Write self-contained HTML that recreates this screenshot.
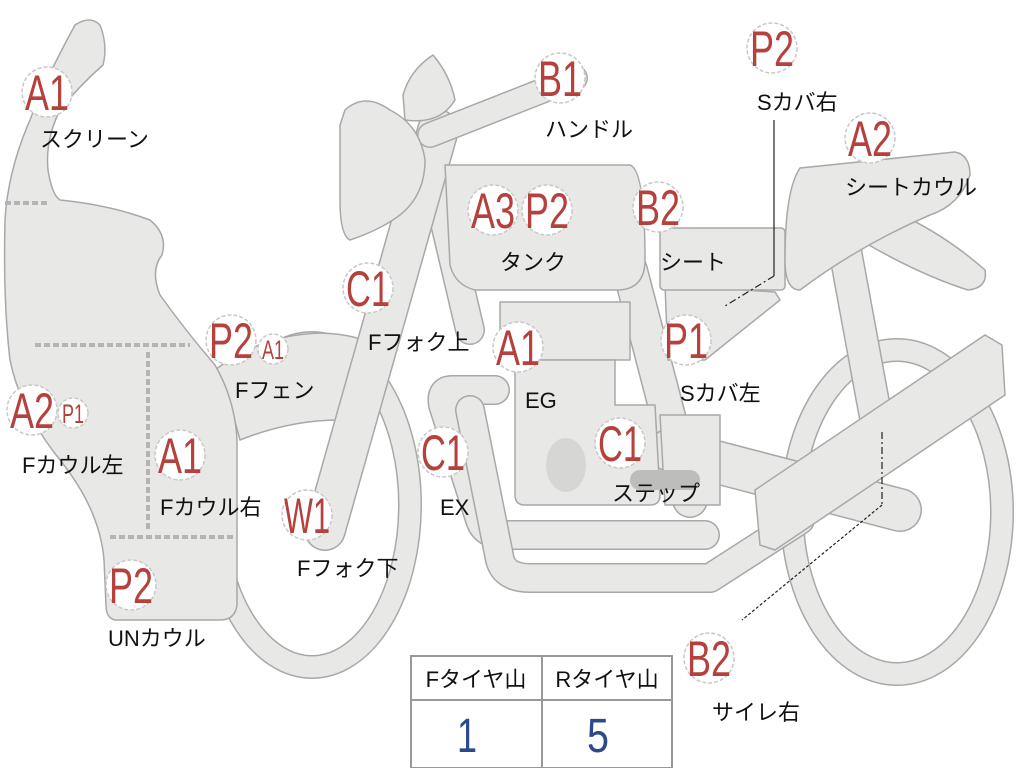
<!DOCTYPE html>
<html><head><meta charset="utf-8"><style>
html,body{margin:0;padding:0;background:#fff;width:1024px;height:768px;overflow:hidden}
svg{display:block}
.s{fill:#e8e8e6;stroke:#a8a8a8;stroke-width:1.5;stroke-linejoin:round}
.to{fill:none;stroke:#a8a8a8;stroke-linecap:round;stroke-linejoin:round}
.ti{fill:none;stroke:#e8e8e6;stroke-linecap:round;stroke-linejoin:round}
.b circle{fill:#fff;stroke:#c8c8c8;stroke-width:1.5;stroke-dasharray:4 2}
.b text{font-family:"Liberation Sans",sans-serif;fill:#b5403c;font-size:50px;text-anchor:middle}
.l{font-family:"Liberation Sans","Noto Sans CJK JP",sans-serif;font-size:22px;fill:#111}
</style></head><body>
<svg width="1024" height="768" viewBox="0 0 1024 768" xmlns="http://www.w3.org/2000/svg">
<ellipse cx="897" cy="512" rx="105" ry="162" class="to" stroke-width="24"/>
<ellipse cx="897" cy="512" rx="105" ry="162" class="ti" stroke-width="21"/>
<ellipse cx="312" cy="505" rx="98" ry="162" class="to" stroke-width="24"/>
<ellipse cx="312" cy="505" rx="98" ry="162" class="ti" stroke-width="21"/>
<path d="M845 250 L880 440" class="to" stroke-width="34"/><path d="M845 250 L880 440" class="ti" stroke-width="31"/>
<path d="M430 160 L470 330" class="to" stroke-width="30"/><path d="M430 160 L470 330" class="ti" stroke-width="27"/>
<path d="M630 270 L690 500" class="to" stroke-width="36"/><path d="M630 270 L690 500" class="ti" stroke-width="33"/>
<path d="M670 450 L900 510" class="to" stroke-width="44"/><path d="M670 450 L900 510" class="ti" stroke-width="41"/>
<polygon class="s" points="660,415 720,415 720,505 665,505"/>
<path d="M495 390 L452 390 Q440 390 443 405 L480 520 Q485 535 505 535 L705 535" class="to" stroke-width="30"/>
<path d="M495 390 L452 390 Q440 390 443 405 L480 520 Q485 535 505 535 L705 535" class="ti" stroke-width="27"/>
<path d="M470 410 L500 560 Q505 578 530 578 L710 578 L800 520" class="to" stroke-width="30"/>
<path d="M470 410 L500 560 Q505 578 530 578 L710 578 L800 520" class="ti" stroke-width="27"/>
<rect class="s" x="500" y="302" width="130" height="58"/>
<path class="s" d="M515 360 L615 360 L615 405 L655 405 L660 495 Q660 505 650 505 L525 505 Q515 505 515 495 Z"/>
<ellipse cx="566" cy="465" rx="20" ry="27" fill="#d6d6d4"/>
<path d="M640 480 L690 480" stroke="#bdbdbb" stroke-width="20" stroke-linecap="round"/>
<path class="s" d="M215 370 Q260 335 320 333 Q360 334 385 350 L340 420 Q290 420 240 440 L232 410 Z"/>
<path d="M438 130 L325 530" class="to" stroke-width="42"/><path d="M438 130 L325 530" class="ti" stroke-width="39"/>
<path d="M430 135 L575 78" class="to" stroke-width="26"/><path d="M430 135 L575 78" class="ti" stroke-width="23"/>
<path class="s" d="M403 95 Q410 70 433 55 Q450 75 455 100 Q440 125 405 120 Z"/>
<path class="s" d="M345 110 Q365 92 390 110 Q420 125 425 160 Q425 195 400 215 Q380 230 350 240 Q340 235 340 200 L340 125 Z"/>
<path class="s" d="M445 165 L630 165 Q645 170 645 260 Q645 288 620 290 L475 290 Q455 285 450 265 Z"/>
<polygon class="s" points="665,285 775,292 780,300 705,360 668,360"/>
<rect class="s" x="660" y="228" width="125" height="62" rx="4"/>
<path class="s" d="M880 205 Q940 230 985 270 Q988 288 968 290 Q920 275 860 240 Z"/>
<path class="s" d="M800 168 L955 152 Q970 155 970 175 Q960 205 930 215 Q860 245 800 290 Q785 290 785 260 Q785 190 800 168 Z"/>
<polygon class="s" points="755,490 985,335 1002,345 1005,395 775,550 760,545"/>
<path class="s" d="M75 25 Q90 15 100 25 Q108 45 103 65 Q80 85 60 110 Q45 140 48 170 Q52 195 60 200 Q110 205 150 220 Q168 235 162 255 Q150 270 160 295 Q185 330 215 365 Q235 400 237 440 L237 605 Q235 620 220 620 L115 620 Q106 618 106 605 L104 560 Q100 510 60 460 Q20 410 10 360 Q3 300 5 220 Q8 170 30 120 Q45 80 75 25 Z"/>
<g stroke="#b4b4b4" stroke-width="4" stroke-dasharray="6 3">
<path d="M5 203 L50 203"/><path d="M35 345 L190 345"/><path d="M148 352 L148 532"/><path d="M110 537 L235 537"/>
</g>
<g stroke="#222" stroke-width="1.2" fill="none">
<path d="M774 120 L774 276" /><path d="M774 276 L725 306" stroke-dasharray="7 3 2 3"/>
<path d="M882 432 L882 505" stroke-dasharray="7 3 2 3"/><path d="M882 505 L742 620" stroke-dasharray="3 2"/>
</g>
<g class="b">
<circle cx="47" cy="92" r="25"/><text x="47" y="110" textLength="44" lengthAdjust="spacingAndGlyphs">A1</text>
<circle cx="772" cy="48" r="25"/><text x="772" y="66" textLength="44" lengthAdjust="spacingAndGlyphs">P2</text>
<circle cx="560" cy="78" r="25"/><text x="560" y="96" textLength="44" lengthAdjust="spacingAndGlyphs">B1</text>
<circle cx="870" cy="138" r="25"/><text x="870" y="156" textLength="44" lengthAdjust="spacingAndGlyphs">A2</text>
<circle cx="493" cy="210" r="25"/><text x="493" y="228" textLength="44" lengthAdjust="spacingAndGlyphs">A3</text>
<circle cx="547" cy="210" r="25"/><text x="547" y="228" textLength="44" lengthAdjust="spacingAndGlyphs">P2</text>
<circle cx="658" cy="207" r="25"/><text x="658" y="225" textLength="44" lengthAdjust="spacingAndGlyphs">B2</text>
<circle cx="368" cy="288" r="25"/><text x="368" y="306" textLength="44" lengthAdjust="spacingAndGlyphs">C1</text>
<circle cx="231" cy="340" r="25"/><text x="231" y="358" textLength="44" lengthAdjust="spacingAndGlyphs">P2</text>
<circle cx="518" cy="347" r="25"/><text x="518" y="365" textLength="44" lengthAdjust="spacingAndGlyphs">A1</text>
<circle cx="686" cy="340" r="25"/><text x="686" y="358" textLength="44" lengthAdjust="spacingAndGlyphs">P1</text>
<circle cx="32" cy="410" r="25"/><text x="32" y="428" textLength="44" lengthAdjust="spacingAndGlyphs">A2</text>
<circle cx="180" cy="455" r="25"/><text x="180" y="473" textLength="44" lengthAdjust="spacingAndGlyphs">A1</text>
<circle cx="443" cy="452" r="25"/><text x="443" y="470" textLength="44" lengthAdjust="spacingAndGlyphs">C1</text>
<circle cx="620" cy="443" r="25"/><text x="620" y="461" textLength="44" lengthAdjust="spacingAndGlyphs">C1</text>
<circle cx="307" cy="515" r="25"/><text x="307" y="533" textLength="46" lengthAdjust="spacingAndGlyphs">W1</text>
<circle cx="131" cy="585" r="25"/><text x="131" y="603" textLength="44" lengthAdjust="spacingAndGlyphs">P2</text>
<circle cx="709" cy="658" r="25"/><text x="709" y="676" textLength="44" lengthAdjust="spacingAndGlyphs">B2</text>
<circle cx="273" cy="349" r="15"/><text x="273" y="359" style="font-size:27px" textLength="22" lengthAdjust="spacingAndGlyphs">A1</text>
<circle cx="73" cy="413" r="15"/><text x="73" y="423" style="font-size:27px" textLength="22" lengthAdjust="spacingAndGlyphs">P1</text>
</g>
<g class="l">
<text x="40" y="147">スクリーン</text>
<text x="757" y="110">Sカバ右</text>
<text x="545" y="137">ハンドル</text>
<text x="845" y="195">シートカウル</text>
<text x="500" y="270">タンク</text>
<text x="660" y="270">シート</text>
<text x="368" y="350">Fフォク上</text>
<text x="235" y="398">Fフェン</text>
<text x="525" y="408">EG</text>
<text x="680" y="401">Sカバ左</text>
<text x="22" y="473">Fカウル左</text>
<text x="160" y="515">Fカウル右</text>
<text x="440" y="515">EX</text>
<text x="612" y="501">ステップ</text>
<text x="297" y="576">Fフォク下</text>
<text x="108" y="646">UNカウル</text>
<text x="712" y="720">サイレ右</text>
</g>
<g stroke="#999" stroke-width="2" fill="#fff">
<rect x="411" y="656" width="261" height="112"/>
<path d="M411 700 L672 700 M542 656 L542 768" fill="none"/>
</g>
<g class="l">
<text x="476" y="687" text-anchor="middle">Fタイヤ山</text>
<text x="607" y="687" text-anchor="middle">Rタイヤ山</text>
</g>
<g font-family="Liberation Sans,sans-serif" font-size="48" fill="#2b4a8c" text-anchor="middle">
<text x="467" y="752" textLength="20" lengthAdjust="spacingAndGlyphs">1</text><text x="598" y="752" textLength="22" lengthAdjust="spacingAndGlyphs">5</text>
</g>
</svg>
</body></html>
